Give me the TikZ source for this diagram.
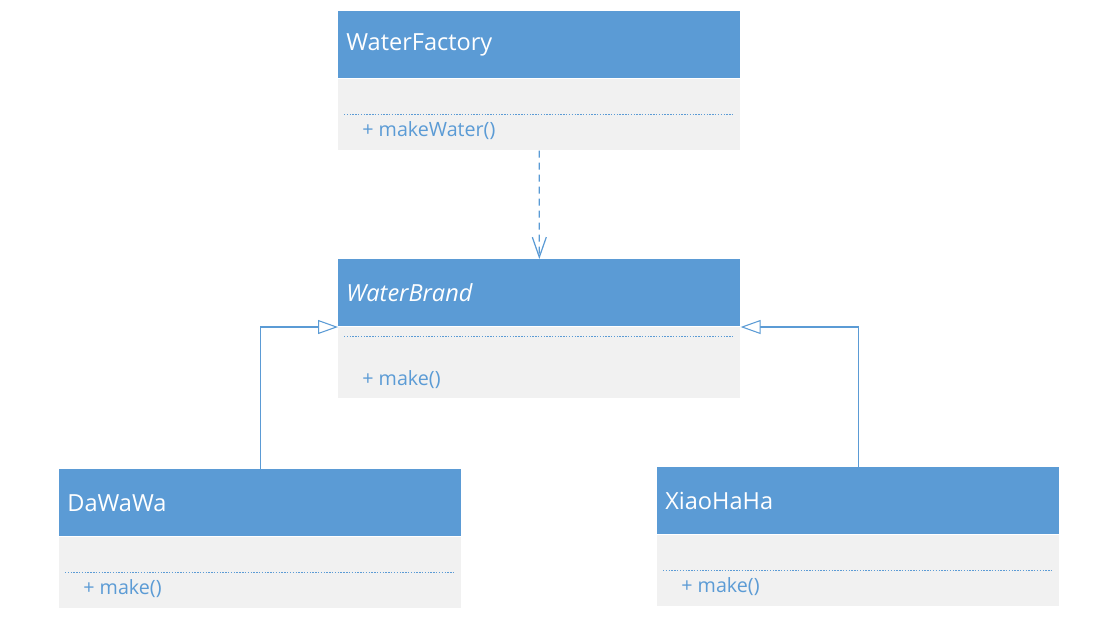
\documentclass[tikz,border=0pt]{standalone}
\usepackage{fontspec}
\setmainfont{Open Sans}
\usetikzlibrary{arrows.meta}
\definecolor{umlblue}{HTML}{5B9BD5}
\definecolor{umlgray}{HTML}{F1F1F1}

\begin{document}
\begin{tikzpicture}[x=0.02cm, y=-0.02cm,
  head/.style={anchor=north west, fill=umlblue, text=white, minimum width=8.04cm, minimum height=1.34cm, inner xsep=0.16cm, text width=7.72cm, align=left, font=\fontsize{13.4}{15}\selectfont},
  body/.style={anchor=north west, fill=umlgray, minimum width=8.04cm, minimum height=1.42cm, inner sep=0pt},
  meth/.style={anchor=west, text=umlblue, inner sep=0pt, font=\fontsize{11.2}{13}\selectfont},
  sep/.style={umlblue, line width=0.4pt, dash pattern=on 0.8pt off 0.8pt},
  dep/.style={umlblue, line width=0.7pt, dash pattern=on 0.14cm off 0.1cm, -{Straight Barb[length=0.4cm, width=0.28cm]}},
  inh/.style={umlblue, line width=0.6pt, -{Triangle[open, length=0.4cm, width=0.28cm, fill=white]}}]
\useasboundingbox (0,0) rectangle (1118,633);
\node[head] (wfh) at (338,11) {WaterFactory};
\node[body] (wfb) at (338,79) {};
\draw[sep] (344,114) to (734,114);
\node[meth] (wfm) at (362,131) {+ makeWater()};
\node[head] (wbh) at (338,259) {\itshape WaterBrand};
\node[body] (wbb) at (338,327) {};
\draw[sep] (344,336) to (734,336);
\node[meth] (wbm) at (362,380) {+ make()};
\node[head] (dwh) at (59,469) {DaWaWa};
\node[body] (dwb) at (59,537) {};
\draw[sep] (65,572) to (455,572);
\node[meth] (dwm) at (83,589) {+ make()};
\node[head] (xhh) at (657,467) {XiaoHaHa};
\node[body] (xhb) at (657,535) {};
\draw[sep] (663,570) to (1053,570);
\node[meth] (xhm) at (681,587) {+ make()};
\draw[dep] (wfb.south) to (wbh.north);
\draw[inh] (dwh.north) |- (wbb.north west);
\draw[inh] (xhh.north) |- (wbb.north east);
\end{tikzpicture}
\end{document}
